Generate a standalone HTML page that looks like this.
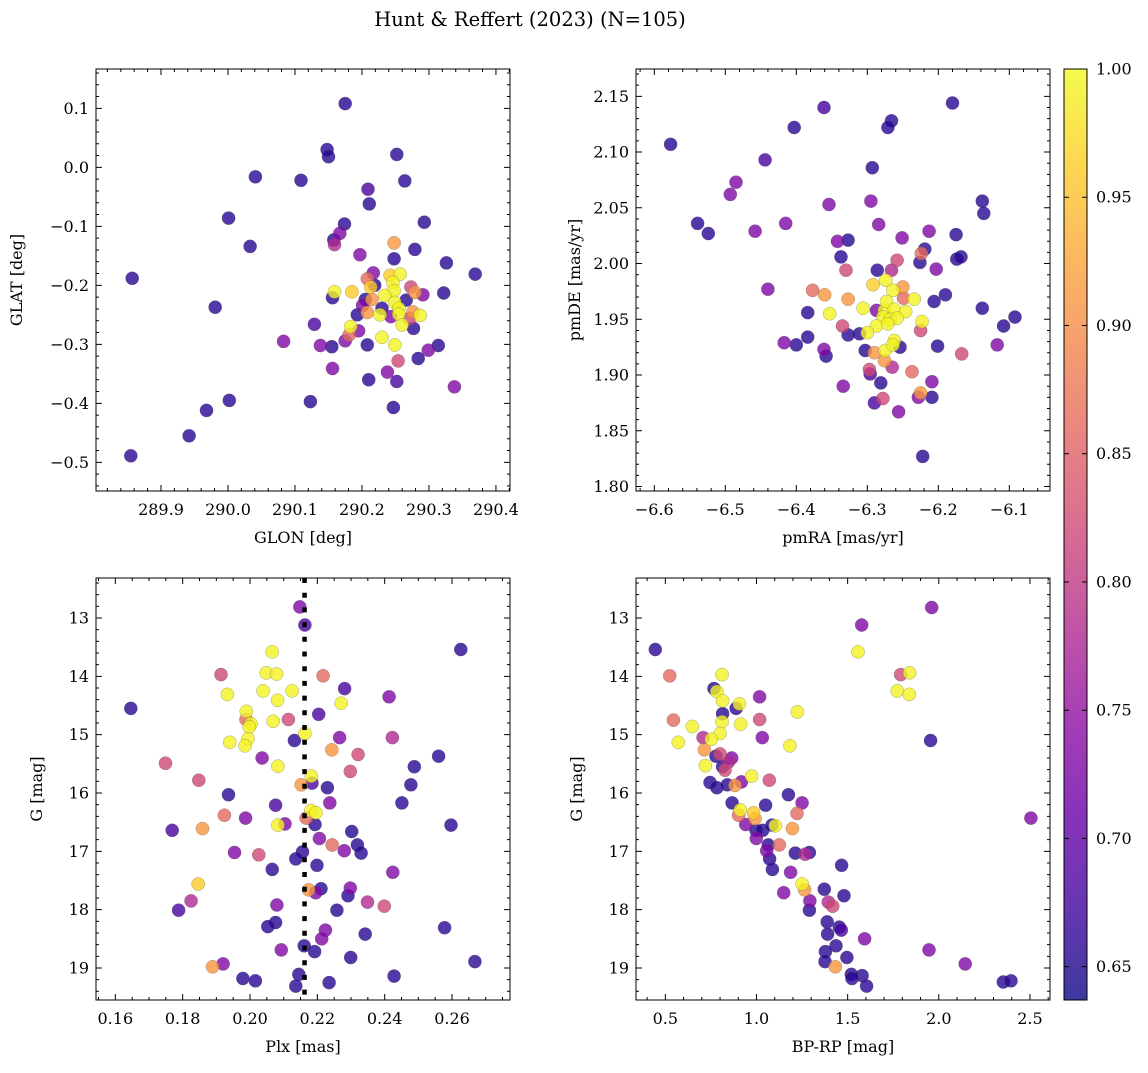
<!DOCTYPE html>
<html><head><meta charset="utf-8"><style>
html,body{margin:0;padding:0;background:#fff;}
svg text{font-family:"DejaVu Serif","Liberation Serif",serif;fill:#000;}
</style></head><body>
<svg id="fig" width="1148" height="1068" viewBox="0 0 1148 1068" xmlns="http://www.w3.org/2000/svg">
<text x="530" y="26" font-size="19.5" text-anchor="middle">Hunt &amp; Reffert (2023) (N=105)</text>
</svg>
<script>
const D=0.655,DP=0.68,P=0.73,PP=0.78,K=0.82,KO=0.86,O=0.91,YO=0.96,Y=0.995;
const glon=[290.175,290.148,290.150,290.252,290.041,290.109,290.264,290.209,290.211,290.001,290.174,290.293,290.167,290.158,290.159,290.033,290.248,290.279,290.197,290.248,290.326,290.369,289.857,290.217,290.242,290.257,290.208,290.246,290.219,290.213,290.273,290.279,290.291,290.322,290.159,290.156,290.185,290.248,290.234,290.205,290.215,290.266,290.249,290.201,290.230,290.255,290.208,290.193,290.227,290.243,290.255,290.276,290.271,290.287,290.260,290.277,290.129,290.183,290.195,290.181,290.175,290.230,290.083,289.981,290.138,290.155,290.208,290.249,290.314,290.299,290.284,290.254,290.156,290.238,290.210,290.252,290.338,290.002,290.123,290.247,289.968,289.942,289.855];
const glat=[0.108,0.030,0.018,0.022,-0.016,-0.022,-0.023,-0.037,-0.062,-0.086,-0.096,-0.093,-0.112,-0.123,-0.131,-0.134,-0.128,-0.139,-0.148,-0.155,-0.162,-0.181,-0.188,-0.179,-0.183,-0.181,-0.189,-0.195,-0.200,-0.203,-0.203,-0.212,-0.216,-0.213,-0.211,-0.221,-0.211,-0.209,-0.217,-0.224,-0.224,-0.225,-0.229,-0.234,-0.239,-0.239,-0.246,-0.250,-0.250,-0.253,-0.249,-0.245,-0.256,-0.251,-0.267,-0.273,-0.266,-0.270,-0.277,-0.284,-0.294,-0.288,-0.295,-0.237,-0.302,-0.304,-0.301,-0.301,-0.302,-0.310,-0.324,-0.328,-0.341,-0.347,-0.360,-0.363,-0.372,-0.395,-0.397,-0.407,-0.412,-0.455,-0.489];
const prob1=[D,D,D,D,D,D,D,DP,D,D,D,D,P,D,PP,D,O,D,P,D,D,D,D,P,YO,Y,KO,Y,D,YO,K,O,P,D,Y,D,YO,Y,Y,D,O,D,Y,P,D,Y,O,D,Y,P,Y,O,K,Y,Y,D,DP,Y,P,KO,P,Y,P,D,P,D,D,Y,D,P,D,K,P,P,D,DP,P,D,D,D,D,D,D];
const pmra=[-6.577,-6.361,-6.403,-6.266,-6.271,-6.180,-6.444,-6.293,-6.485,-6.493,-6.295,-6.354,-6.138,-6.136,-6.539,-6.524,-6.458,-6.415,-6.284,-6.342,-6.327,-6.251,-6.213,-6.175,-6.219,-6.224,-6.174,-6.168,-6.337,-6.226,-6.258,-6.330,-6.286,-6.266,-6.203,-6.440,-6.377,-6.360,-6.327,-6.292,-6.274,-6.250,-6.264,-6.249,-6.234,-6.190,-6.206,-6.138,-6.092,-6.108,-6.384,-6.353,-6.306,-6.287,-6.276,-6.273,-6.262,-6.246,-6.278,-6.268,-6.258,-6.287,-6.271,-6.223,-6.225,-6.335,-6.327,-6.311,-6.300,-6.384,-6.400,-6.417,-6.361,-6.358,-6.303,-6.290,-6.275,-6.262,-6.264,-6.254,-6.201,-6.167,-6.117,-6.276,-6.265,-6.297,-6.296,-6.237,-6.281,-6.209,-6.334,-6.225,-6.228,-6.209,-6.290,-6.278,-6.256,-6.222];
const pmde=[2.107,2.140,2.122,2.128,2.122,2.144,2.093,2.086,2.073,2.062,2.056,2.053,2.056,2.045,2.036,2.027,2.029,2.036,2.035,2.020,2.021,2.023,2.029,2.026,2.013,2.009,2.004,2.006,2.006,2.001,2.003,1.994,1.994,1.994,1.995,1.977,1.976,1.972,1.968,1.981,1.985,1.979,1.976,1.969,1.968,1.972,1.966,1.960,1.952,1.944,1.956,1.955,1.960,1.958,1.958,1.966,1.959,1.957,1.952,1.950,1.951,1.944,1.946,1.948,1.940,1.944,1.936,1.937,1.938,1.934,1.927,1.929,1.923,1.917,1.922,1.920,1.922,1.931,1.927,1.925,1.926,1.919,1.927,1.913,1.907,1.905,1.901,1.903,1.893,1.894,1.890,1.884,1.880,1.880,1.875,1.879,1.867,1.827];
const prob2=[D,DP,D,D,D,D,DP,D,P,P,P,P,D,D,D,D,P,P,P,P,D,P,P,D,D,KO,D,D,D,D,K,K,D,PP,P,P,KO,O,O,YO,Y,O,Y,KO,Y,D,D,D,D,D,D,Y,Y,P,Y,Y,Y,Y,Y,Y,Y,Y,Y,Y,K,K,D,D,Y,D,D,P,P,D,D,O,Y,Y,Y,D,D,K,P,O,PP,K,DP,KO,D,P,P,O,P,D,DP,K,P,D];
const plx=[0.2148,0.2163,0.2626,0.2066,0.1914,0.2048,0.2079,0.2217,0.2281,0.1933,0.2039,0.2125,0.2082,0.2413,0.1646,0.2271,0.1989,0.1988,0.2003,0.1998,0.2069,0.2114,0.2204,0.2163,0.2266,0.2423,0.2132,0.1940,0.1994,0.1985,0.2243,0.2321,0.2560,0.2036,0.1749,0.2083,0.2488,0.2298,0.1848,0.2182,0.2184,0.2152,0.2230,0.2478,0.1936,0.2237,0.2451,0.2076,0.2181,0.2196,0.2167,0.1924,0.1987,0.1769,0.1859,0.2083,0.2104,0.2193,0.2302,0.2597,0.2206,0.2244,0.2319,0.2330,0.2280,0.1954,0.2026,0.2156,0.2136,0.2199,0.2066,0.2424,0.1846,0.2211,0.2174,0.2195,0.2298,0.2291,0.2349,0.2399,0.1825,0.1788,0.2080,0.2258,0.2076,0.2053,0.2224,0.2213,0.2342,0.2578,0.2093,0.2161,0.2192,0.2299,0.2668,0.1920,0.1889,0.1979,0.2016,0.2145,0.2136,0.2235,0.2428];
const gmag3=[12.81,13.12,13.54,13.58,13.97,13.94,13.96,13.99,14.21,14.31,14.25,14.25,14.41,14.35,14.55,14.46,14.60,14.74,14.81,14.87,14.77,14.74,14.65,14.98,15.05,15.05,15.10,15.13,15.07,15.19,15.26,15.34,15.37,15.40,15.49,15.54,15.55,15.63,15.78,15.71,15.83,15.86,15.91,15.86,16.03,16.17,16.17,16.21,16.30,16.34,16.43,16.38,16.43,16.64,16.61,16.55,16.53,16.54,16.66,16.55,16.78,16.89,16.89,17.03,16.99,17.02,17.06,17.01,17.13,17.24,17.31,17.36,17.56,17.64,17.66,17.71,17.63,17.76,17.87,17.94,17.85,18.01,17.92,18.01,18.22,18.29,18.35,18.50,18.42,18.31,18.69,18.62,18.72,18.82,18.89,18.93,18.98,19.18,19.22,19.11,19.31,19.25,19.14];
const prob3=[P,DP,D,Y,K,Y,Y,KO,DP,Y,Y,Y,Y,P,D,Y,Y,KO,Y,Y,Y,K,DP,Y,P,PP,D,Y,Y,Y,O,K,D,P,K,Y,D,K,K,Y,DP,O,D,D,D,P,D,DP,Y,Y,KO,KO,P,DP,O,Y,P,D,D,D,P,KO,D,D,P,P,K,D,D,D,D,P,YO,D,O,P,P,D,PP,K,PP,DP,P,D,D,D,P,P,D,D,P,D,D,D,D,P,O,D,D,D,D,D,D];
const plxRef=[0.2162];
const bprp=[1.961,1.577,1.557,0.445,0.524,0.811,1.791,1.840,1.772,1.838,0.767,0.782,0.814,1.017,0.906,0.888,1.224,0.814,0.811,0.913,1.017,0.544,0.648,0.800,0.752,0.707,0.571,1.032,1.184,1.955,0.714,0.778,0.800,0.864,0.846,0.814,0.827,0.719,0.973,1.070,0.745,0.783,0.840,0.917,0.882,1.175,1.250,0.866,1.050,0.911,0.902,0.984,0.992,1.222,0.941,0.997,1.034,1.085,1.103,1.197,0.999,1.065,1.125,1.056,1.072,1.087,1.213,1.290,1.266,1.467,1.187,1.250,1.264,1.149,1.372,1.480,1.293,1.394,1.418,1.290,1.388,1.454,1.465,1.390,1.593,1.436,1.378,1.496,1.376,1.432,1.946,2.145,2.505,1.520,1.579,1.524,1.604,2.354,2.396];
const gmag4=[12.82,13.12,13.58,13.54,13.99,13.97,13.97,13.94,14.25,14.31,14.21,14.26,14.42,14.35,14.47,14.55,14.61,14.64,14.78,14.82,14.74,14.75,14.86,14.98,15.08,15.05,15.13,15.05,15.19,15.10,15.26,15.37,15.33,15.40,15.47,15.55,15.61,15.53,15.71,15.78,15.82,15.91,15.86,15.81,15.87,16.03,16.17,16.17,16.21,16.29,16.38,16.34,16.44,16.35,16.54,16.64,16.64,16.55,16.56,16.61,16.78,16.89,16.89,16.99,17.13,17.31,17.03,17.02,17.05,17.24,17.36,17.56,17.66,17.71,17.65,17.76,17.85,17.87,17.94,18.01,18.21,18.30,18.35,18.42,18.50,18.62,18.72,18.82,18.89,18.98,18.69,18.93,16.43,19.11,19.13,19.18,19.31,19.24,19.22];
const prob4=[P,P,Y,D,KO,Y,K,Y,Y,Y,D,Y,Y,P,Y,D,Y,D,Y,Y,K,KO,Y,Y,Y,PP,Y,P,Y,D,O,D,K,P,PP,D,K,Y,Y,K,D,D,D,P,O,D,P,D,D,Y,KO,YO,O,KO,P,D,D,D,Y,O,P,D,KO,P,D,D,D,D,PP,D,P,Y,O,P,D,D,P,PP,K,D,D,D,DP,D,P,D,D,D,D,O,P,P,P,D,D,D,D,D,D];
const cbTicks=[0.65,0.70,0.75,0.80,0.85,0.90,0.95,1.00];
const ticks1x=[289.9,290.0,290.1,290.2,290.3,290.4], ticks1y=[0.1,0.0,-0.1,-0.2,-0.3,-0.4,-0.5];
const ticks2x=[-6.6,-6.5,-6.4,-6.3,-6.2,-6.1], ticks2y=[2.15,2.10,2.05,2.00,1.95,1.90,1.85,1.80];
const ticks3x=[0.16,0.18,0.20,0.22,0.24,0.26], ticksGy=[13,14,15,16,17,18,19];
const ticks4x=[0.5,1.0,1.5,2.0,2.5];

const VMIN=0.637,VMAX=1.0;
const PL=[[13,8,135],[65,4,157],[106,0,168],[143,13,164],[177,42,144],[204,71,120],[225,100,98],[242,132,75],[252,166,54],[252,206,37],[240,249,33]];
function plasma(t){t=Math.max(0,Math.min(1,t));const f=t*10,i=Math.min(9,Math.floor(f)),u=f-i;const a=PL[i],b=PL[i+1];return 'rgb('+a.map((v,k)=>Math.round(v+(b[k]-v)*u)).join(',')+')';}
const NS='http://www.w3.org/2000/svg';
const svg=document.getElementById('fig');
function mk(tag,attrs,parent){const e=document.createElementNS(NS,tag);for(const k in attrs)e.setAttribute(k,attrs[k]);(parent||svg).appendChild(e);return e;}
function fmt(v,d){const s=Math.abs(v).toFixed(d);return (v<0&&parseFloat(s)!==0?'\u2212':'')+s;}
const FS=16;

function panel(o){
  const g=mk('g',{});
  
  
  const sx=v=>o.x0+(v-o.xmin)/(o.xmax-o.xmin)*(o.x1-o.x0);
  const sy=v=>o.inv? o.y0+(v-o.ymin)/(o.ymax-o.ymin)*(o.y1-o.y0) : o.y1-(v-o.ymin)/(o.ymax-o.ymin)*(o.y1-o.y0);
  const idx=o.xs.map((_,i)=>i).sort((a,b)=>o.ps[a]-o.ps[b]);
  idx.forEach(i=>{
    const c=mk('circle',{cx:sx(o.xs[i]).toFixed(1),cy:sy(o.ys[i]).toFixed(1),r:6.6,fill:plasma((o.ps[i]-VMIN)/(VMAX-VMIN)),'fill-opacity':0.8,stroke:'#555','stroke-opacity':0.5,'stroke-width':0.5},g);
    
    
  });
  if(o.vline){
    const l=mk('line',{x1:sx(o.vline[0]),x2:sx(o.vline[0]),y1:o.y0,y2:o.y1,stroke:'#000','stroke-width':4.5,'stroke-dasharray':'5 9.7'},g);
    
    
  }
  const fr=mk('rect',{x:o.x0,y:o.y0,width:o.x1-o.x0,height:o.y1-o.y0,fill:'none',stroke:'#000','stroke-width':1},g);
  
  
  let path='';
  const lo=Math.min(o.xmin,o.xmax),hi=Math.max(o.xmin,o.xmax);
  for(let v=Math.ceil(lo/o.xminor-1e-6)*o.xminor;v<=hi+1e-9;v+=o.xminor){const x=sx(v);path+=`M${x},${o.y1}v-3M${x},${o.y0}v3`;}
  const ylo=Math.min(o.ymin,o.ymax),yhi=Math.max(o.ymin,o.ymax);
  for(let v=Math.ceil(ylo/o.yminor-1e-6)*o.yminor;v<=yhi+1e-9;v+=o.yminor){const y=sy(v);path+=`M${o.x0},${y}h3M${o.x1},${y}h-3`;}
  o.xt.forEach(v=>{const x=sx(v);path+=`M${x},${o.y1}v-6M${x},${o.y0}v6`;});
  o.yt.forEach(v=>{const y=sy(v);path+=`M${o.x0},${y}h6M${o.x1},${y}h-6`;});
  const tp=mk('path',{d:path,stroke:'#000','stroke-width':1,fill:'none'},g);
  
  
  o.xt.forEach(v=>{const t=mk('text',{x:sx(v),y:o.y1+24,'font-size':FS,'text-anchor':'middle'},g);t.textContent=fmt(v,o.xd);
    
    });
  o.yt.forEach(v=>{const t=mk('text',{x:o.x0-7,y:sy(v)+5.5,'font-size':FS,'text-anchor':'end'},g);t.textContent=fmt(v,o.yd);
    
    });
  const xl=mk('text',{x:(o.x0+o.x1)/2,y:o.y1+52,'font-size':16,'text-anchor':'middle'},g);xl.textContent=o.xlabel;
  
  
  const cy=(o.y0+o.y1)/2;
  const yl=mk('text',{x:o.ylx,y:cy,'font-size':16,'text-anchor':'middle',transform:`rotate(-90 ${o.ylx} ${cy})`},g);yl.textContent=o.ylabel;
  
  
}
panel({name:'panel-glon-glat',x0:96,x1:510,y0:69,y1:491,xmin:289.803,xmax:290.421,ymin:-0.5486,ymax:0.1667,xs:glon,ys:glat,ps:prob1,xt:ticks1x,yt:ticks1y,xminor:0.02,yminor:0.02,xd:1,yd:1,xlabel:'GLON [deg]',ylabel:'GLAT [deg]',ylx:22});
panel({name:'panel-pmra-pmde',x0:636,x1:1050,y0:69,y1:491,xmin:-6.6258,xmax:-6.0427,ymin:1.796,ymax:2.1745,xs:pmra,ys:pmde,ps:prob2,xt:ticks2x,yt:ticks2y,xminor:0.02,yminor:0.01,xd:1,yd:2,xlabel:'pmRA [mas/yr]',ylabel:'pmDE [mas/yr]',ylx:580});
panel({name:'panel-plx-g',x0:96,x1:510,y0:578,y1:1000,xmin:0.15426,xmax:0.27722,ymin:12.314,ymax:19.549,inv:true,xs:plx,ys:gmag3,ps:prob3,xt:ticks3x,yt:ticksGy,xminor:0.005,yminor:0.2,xd:2,yd:0,xlabel:'Plx [mas]',ylabel:'G [mag]',ylx:42,vline:plxRef});
panel({name:'panel-bprp-g',x0:636,x1:1050,y0:578,y1:1000,xmin:0.339,xmax:2.610,ymin:12.314,ymax:19.549,inv:true,xs:bprp,ys:gmag4,ps:prob4,xt:ticks4x,yt:ticksGy,xminor:0.1,yminor:0.2,xd:1,yd:0,xlabel:'BP-RP [mag]',ylabel:'G [mag]',ylx:582});

const defs=mk('defs',{});
const lg=mk('linearGradient',{id:'cbg',x1:0,y1:1,x2:0,y2:0},defs);
for(let i=0;i<=20;i++){mk('stop',{offset:(i/20),'stop-color':plasma(i/20),'stop-opacity':0.8},lg);}
const cb=mk('g',{});


const cbx0=1064,cbx1=1087,cby0=69,cby1=1000;
mk('rect',{x:cbx0,y:cby0,width:cbx1-cbx0,height:cby1-cby0,fill:'url(#cbg)',stroke:'#000','stroke-width':1},cb);
const cs=v=>cby1-(v-VMIN)/(VMAX-VMIN)*(cby1-cby0);
cbTicks.forEach(v=>{const y=cs(v);mk('line',{x1:cbx1,x2:cbx1-5,y1:y,y2:y,stroke:'#000','stroke-width':1},cb);mk('line',{x1:cbx0,x2:cbx0+5,y1:y,y2:y,stroke:'#000','stroke-width':1},cb);
  const t=mk('text',{x:cbx1+9,y:y+5.5,'font-size':FS},cb);t.textContent=v.toFixed(2);
  
  });
</script>
</body></html>
